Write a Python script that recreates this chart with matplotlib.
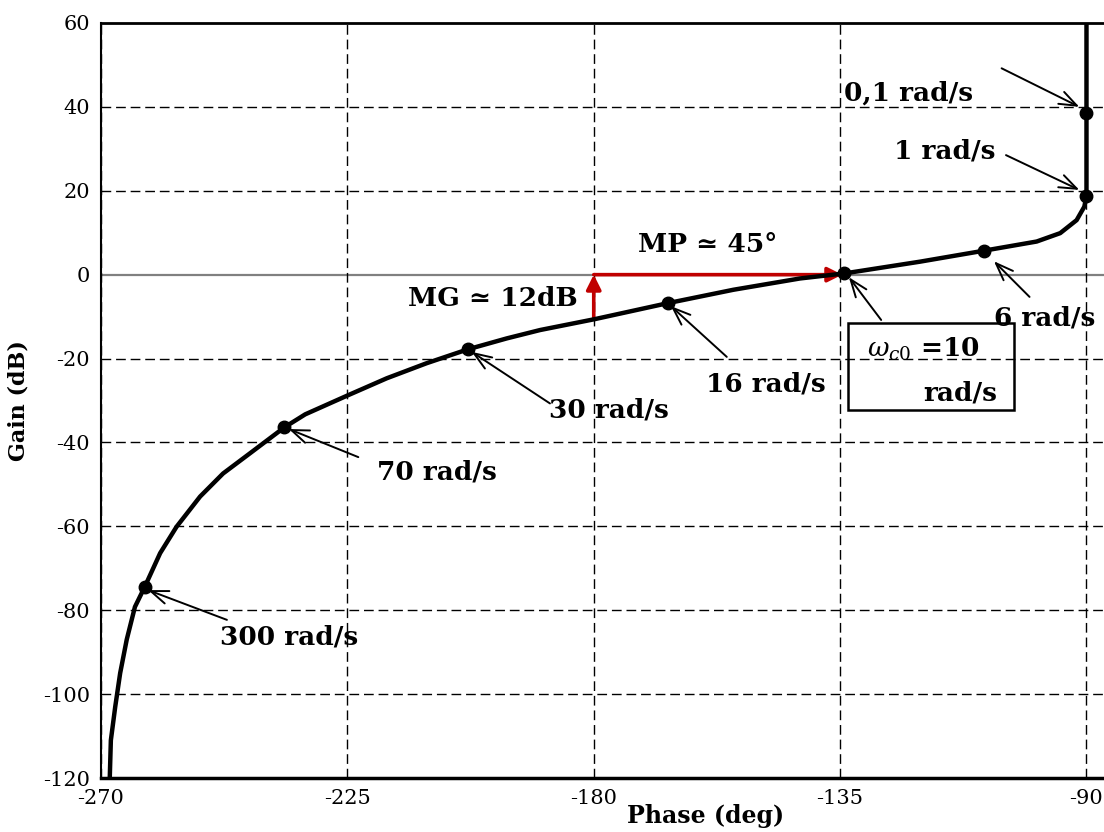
import matplotlib.pyplot as plt
from matplotlib.patches import Rectangle

# Black-Nichols locus (phase in deg, gain in dB)
phase_deg = [-90, -90, -90, -90.4, -91.8, -94.8, -99.1, -108.8, -120.4, -134.2,
             -142.3, -154.5, -166.5, -179.8, -189.8, -195.9, -203.0, -210.5,
             -217.8, -224.8, -232.7, -236.5, -242.8, -247.7, -251.9, -256.2,
             -259.2, -262.0, -263.8, -265.3, -266.5, -267.4, -268.2, -268.4]
gain_db = [60, 38.6, 18.7, 16.2, 13.0, 9.9, 7.9, 5.7, 3.1, 0.3,
           -0.9, -3.6, -6.8, -10.6, -13.2, -15.2, -17.8, -21.1,
           -24.7, -28.7, -33.3, -36.4, -42.6, -47.4, -52.9, -60.1,
           -66.4, -74.4, -79.2, -87, -95, -103, -111, -120]

# marked pulsations
mark_phase = [-90, -90, -108.8, -134.2, -166.5, -203.0, -236.5, -262.0]
mark_gain = [38.6, 18.7, 5.7, 0.3, -6.8, -17.8, -36.4, -74.4]

xticks = [-270, -225, -180, -135, -90]
yticks = [-120, -100, -80, -60, -40, -20, 0, 20, 40, 60]

# labels: text, text centre, arrow tail, arrow head
freq_labels = [
    ("0,1 rad/s", (-122.5, 43.3), (-105.5, 49.2), (-91.3, 40.0)),
    ("1 rad/s", (-115.8, 29.5), (-104.7, 28.5), (-91.3, 20.2)),
    ("6 rad/s", (-97.7, -10.3), (-100.4, -5.3), (-106.9, 3.2)),
    ("16 rad/s", (-148.5, -26.1), (-155.7, -19.6), (-165.9, -7.5)),
    ("30 rad/s", (-177.2, -32.3), (-188.0, -30.7), (-202.3, -18.4)),
    ("70 rad/s", (-208.6, -47.1), (-223.0, -43.5), (-235.7, -36.8)),
    ("300 rad/s", (-235.7, -86.4), (-247.0, -82.3), (-261.4, -75.2)),
]

serif = ['DejaVu Serif', 'DejaVu Sans']
plt.rcParams['font.family'] = serif
plt.rcParams['mathtext.fontset'] = 'dejavuserif'
plt.rcParams['axes.unicode_minus'] = False

fig = plt.figure(figsize=(11.04, 8.32), dpi=100)
ax = fig.add_axes([101 / 1104, 54 / 832, 1003 / 1104, 755 / 832])

ax.set_xlim(-270, -86.8)
ax.set_ylim(-120, 60)
ax.set_xticks(xticks)
ax.set_yticks(yticks)
ax.tick_params(length=0, labelsize=15, pad=8)

dash = (0, (7, 3.5))
ax.grid(True, axis='x', color='black', linestyle=dash, linewidth=1.0)
for y in yticks:
    if y == 0:
        ax.axhline(y, color='#808080', linewidth=1.6, zorder=1.5)
    elif y not in (-120, 60):
        ax.axhline(y, color='black', linestyle=dash, linewidth=1.0, zorder=1)

ax.spines['right'].set_visible(False)
ax.spines['top'].set_linewidth(2)
ax.spines['bottom'].set_linewidth(2.5)
ax.spines['left'].set_linewidth(1.5)

ax.plot(phase_deg, gain_db, color='black', linewidth=3.2, zorder=4)
ax.plot(mark_phase, mark_gain, 'o', color='black', markersize=9, zorder=5)

ax.set_xlabel('Phase (deg)', fontsize=17, fontweight='bold')
ax.xaxis.set_label_coords(0.603, -0.034)
ax.set_ylabel('Gain (dB)', fontsize=16, fontweight='bold')
ax.yaxis.set_label_coords(-0.071, 0.5)

arrow_kw = dict(arrowstyle='->, head_length=0.45, head_width=0.17', color='black',
                lw=1.4, mutation_scale=28, shrinkA=0, shrinkB=0)

for txt, pos, tail, head in freq_labels:
    ax.text(pos[0], pos[1], txt, fontsize=19, fontweight='bold',
            ha='center', va='center', zorder=6)
    ax.annotate('', xy=head, xytext=tail, arrowprops=arrow_kw, zorder=6)

# crossover box
ax.add_patch(Rectangle((-133.5, -32.3), 30.3, 20.8, fill=False,
                       edgecolor='black', linewidth=1.8, zorder=6))
ax.text(-130.0, -17.8, r'$\omega_{c0}$' + ' =10', fontsize=19, fontweight='bold',
        ha='left', va='center', zorder=6)
ax.text(-113.0, -28.2, 'rad/s', fontsize=19, fontweight='bold',
        ha='center', va='center', zorder=6)
ax.annotate('', xy=(-133.4, -0.6), xytext=(-127.5, -10.8),
            arrowprops=arrow_kw, zorder=6)

# margins
red = '#c00000'
red_kw = dict(arrowstyle='-|>', color=red, lw=2.6, mutation_scale=22,
              shrinkA=0, shrinkB=0)
ax.annotate('', xy=(-180, 0), xytext=(-180, -10.6), arrowprops=red_kw, zorder=3)
ax.annotate('', xy=(-134.6, 0), xytext=(-180, 0), arrowprops=red_kw, zorder=3)
ax.text(-198.4, -5.8, 'MG ≃ 12dB', fontsize=19, fontweight='bold',
        ha='center', va='center')
ax.text(-159.1, 7.1, 'MP ≃ 45°', fontsize=19, fontweight='bold',
        ha='center', va='center')

fig.savefig('out.png', dpi=100)
